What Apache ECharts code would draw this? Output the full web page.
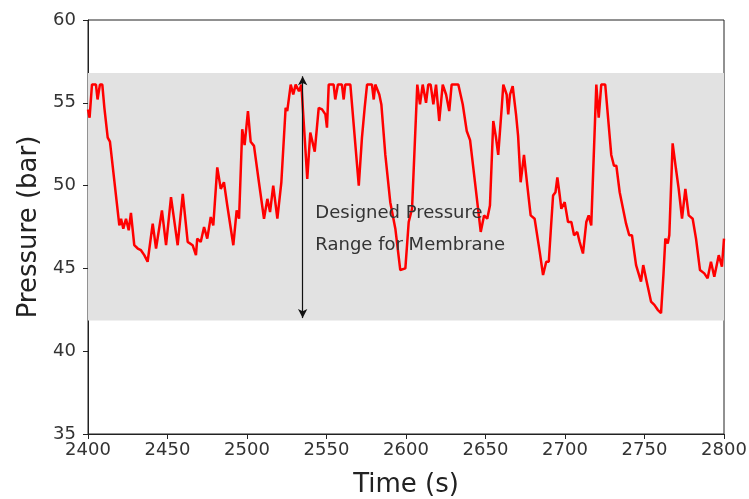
<!DOCTYPE html>
<html><head><meta charset="utf-8">
<script src="https://cdn.jsdelivr.net/npm/echarts@6/dist/echarts.min.js"></script>
<style>html,body{margin:0;padding:0;background:#fff}#c{width:749px;height:499px}</style>
</head><body><div id="c"></div>
<script>
var times = [2400,2401,2402.5,2405,2406,2407.5,2409,2410.3,2412.4,2413.8,2419.7,2420.8,2422.2,2423.9,2425.6,2427,2429.1,2431.3,2433.3,2435.4,2437.5,2440.7,2442.8,2446.5,2449.1,2452.2,2456.4,2459.6,2462.7,2465.8,2467.9,2468.7,2470.9,2473,2475,2477.2,2478.8,2481.3,2483.5,2485.5,2487.6,2491.4,2493.5,2495,2497,2498.5,2500.6,2502.3,2504.4,2507.5,2510.7,2512.8,2514.5,2516.5,2519.1,2521.6,2524.3,2525.3,2527.5,2529.1,2530.6,2532.7,2534.2,2535,2537.9,2539.8,2542.6,2545.1,2547.2,2549.3,2550.3,2551.4,2554.5,2555.5,2557.2,2559.7,2560.8,2561.8,2565,2570.3,2572.3,2574,2575.5,2578.6,2579.7,2580.7,2583.2,2584.5,2587,2590.1,2593.3,2596.4,2599.6,2601.7,2603.8,2607.1,2608.8,2610.5,2612.6,2614,2615.5,2617.2,2618.9,2620.9,2623.1,2625.2,2627.2,2628.7,2632.9,2635.7,2638.2,2640.3,2643.4,2647,2649.1,2651.1,2652.8,2654.9,2656.6,2658,2660.2,2661.2,2663.3,2664.3,2665.4,2667.1,2669.2,2670.5,2672.1,2674.2,2676.3,2678.4,2680.9,2684.1,2686.2,2688.2,2689.8,2691.4,2692.5,2694,2695.2,2696.7,2697.7,2699.8,2701.9,2704,2705.7,2707.7,2709.2,2711.3,2713.4,2714.9,2716.5,2719.7,2721.2,2722.8,2725.3,2729.1,2730.8,2732.3,2734.4,2738.4,2740.4,2742.1,2744.7,2747.8,2749.2,2751.4,2754.1,2756.2,2758.3,2760.4,2761.9,2763.1,2764.6,2765.6,2767.7,2769.8,2771.5,2773.6,2775.7,2777.8,2780.3,2782.4,2784.9,2787.6,2789.7,2791.8,2793.9,2796.7,2798.7,2800];
var pressures = [54.6,54.1,56.1,56.1,55.2,56.1,56.1,54.7,52.9,52.65,47.6,48.0,47.4,48.0,47.3,48.35,46.4,46.2,46.1,45.8,45.4,47.7,46.2,48.5,46.4,49.3,46.4,49.5,46.6,46.4,45.8,46.8,46.6,47.5,46.8,48.1,47.6,51.1,49.8,50.2,48.8,46.4,48.5,48.0,53.4,52.45,54.5,52.65,52.4,50.2,48.0,49.2,48.4,50.0,48.0,50.2,54.7,54.5,56.1,55.5,56.1,55.7,56.1,56.1,50.4,53.2,52.05,54.7,54.6,54.3,53.5,56.1,56.1,55.2,56.1,56.1,55.2,56.1,56.1,50.0,52.9,54.7,56.1,56.1,55.2,56.1,55.5,54.9,51.85,49.0,47.4,44.9,45.0,47.8,48.6,56.1,54.9,56.1,55.0,56.1,56.1,54.9,56.1,53.9,56.1,55.5,54.5,56.1,56.1,54.9,53.3,52.75,50.2,47.2,48.2,48.0,48.8,53.9,52.9,51.85,54.7,56.1,55.5,54.3,55.5,56.0,54.3,53.0,50.2,51.85,50.0,48.2,48.0,46.0,44.6,45.4,45.4,47.8,49.4,49.6,50.5,49.4,48.6,49.0,47.8,47.8,47.0,47.2,46.6,45.9,47.8,48.2,47.6,56.1,54.1,56.1,56.1,51.85,51.2,51.2,49.6,47.7,47.0,47.0,45.2,44.2,45.2,44.2,43.0,42.8,42.5,42.3,44.6,46.8,46.5,47.0,52.55,51.0,49.8,48.0,49.8,48.2,48.0,46.8,44.9,44.7,44.4,45.4,44.5,45.8,45.1,46.8];
var bandRange = [41.85, 56.8];
var arrowTime = 2535;
var arrowRange = [42.0, 56.6];
var annotationLines = ["Designed Pressure", "Range for Membrane"];
var annotationPos = [[2543, 48.3], [2543, 46.4]];
var xTicks = {min: 2400, max: 2800, interval: 50};
var yTicks = {min: 35, max: 60, interval: 5};

var FONT = 'DejaVu Sans';
var chart = echarts.init(document.getElementById('c'), null, {renderer: 'canvas'});
var lineData = times.map(function (t, i) { return [t, pressures[i]]; });

chart.setOption({
  animation: false,
  backgroundColor: '#fff',
  grid: {left: 88, right: 25, top: 20, bottom: 65, outerBoundsMode: 'none', containLabel: false, show: true, borderColor: '#222', borderWidth: 1, backgroundColor: 'transparent'},
  xAxis: {
    type: 'value', min: xTicks.min, max: xTicks.max, interval: xTicks.interval,
    name: 'Time (s)', nameLocation: 'middle', nameGap: 38,
    nameTextStyle: {fontFamily: FONT, fontSize: 26, color: '#222'},
    axisLine: {show: true, lineStyle: {color: '#222', width: 1}},
    axisTick: {show: true, length: 5, lineStyle: {color: '#222'}},
    axisLabel: {fontFamily: FONT, fontSize: 18, color: '#333', margin: 7, formatter: function (v) { return String(v); }},
    splitLine: {show: false}
  },
  yAxis: {
    type: 'value', min: yTicks.min, max: yTicks.max, interval: yTicks.interval,
    name: 'Pressure (bar)', nameLocation: 'middle', nameGap: 44, nameRotate: 90,
    nameTextStyle: {fontFamily: FONT, fontSize: 26, color: '#222'},
    axisLine: {show: true, lineStyle: {color: '#222', width: 1}},
    axisTick: {show: true, length: 5, lineStyle: {color: '#222'}},
    axisLabel: {fontFamily: FONT, fontSize: 18, color: '#333', margin: 12, formatter: function (v) { return String(v); }},
    splitLine: {show: false}
  },
  series: [
    {
      type: 'line', data: lineData, showSymbol: false, symbol: 'none',
      lineStyle: {color: '#ff0000', width: 2.5}, z: 3,
      markArea: {
        silent: true,
        itemStyle: {color: '#e2e2e2'},
        data: [[{yAxis: bandRange[0]}, {yAxis: bandRange[1]}]],
        z: 1
      }
    },
    {
      type: 'line', data: [], z: 4,
      markLine: {
        silent: true, symbol: ['arrow', 'arrow'], symbolSize: [7, 9],
        lineStyle: {color: '#111', width: 1.2, type: 'solid'},
        label: {show: false},
        data: [[{coord: [arrowTime, arrowRange[0]]}, {coord: [arrowTime, arrowRange[1]]}]]
      },
      markPoint: {
        silent: true, symbol: 'circle', symbolSize: 0,
        label: {show: true, position: [0, 0], align: 'left', verticalAlign: 'middle', fontFamily: FONT, fontSize: 18, color: '#333', formatter: function (p) { return p.name; }},
        data: annotationLines.map(function (s, i) { return {name: s, coord: annotationPos[i]}; })
      }
    }
  ]
});
</script></body></html>
